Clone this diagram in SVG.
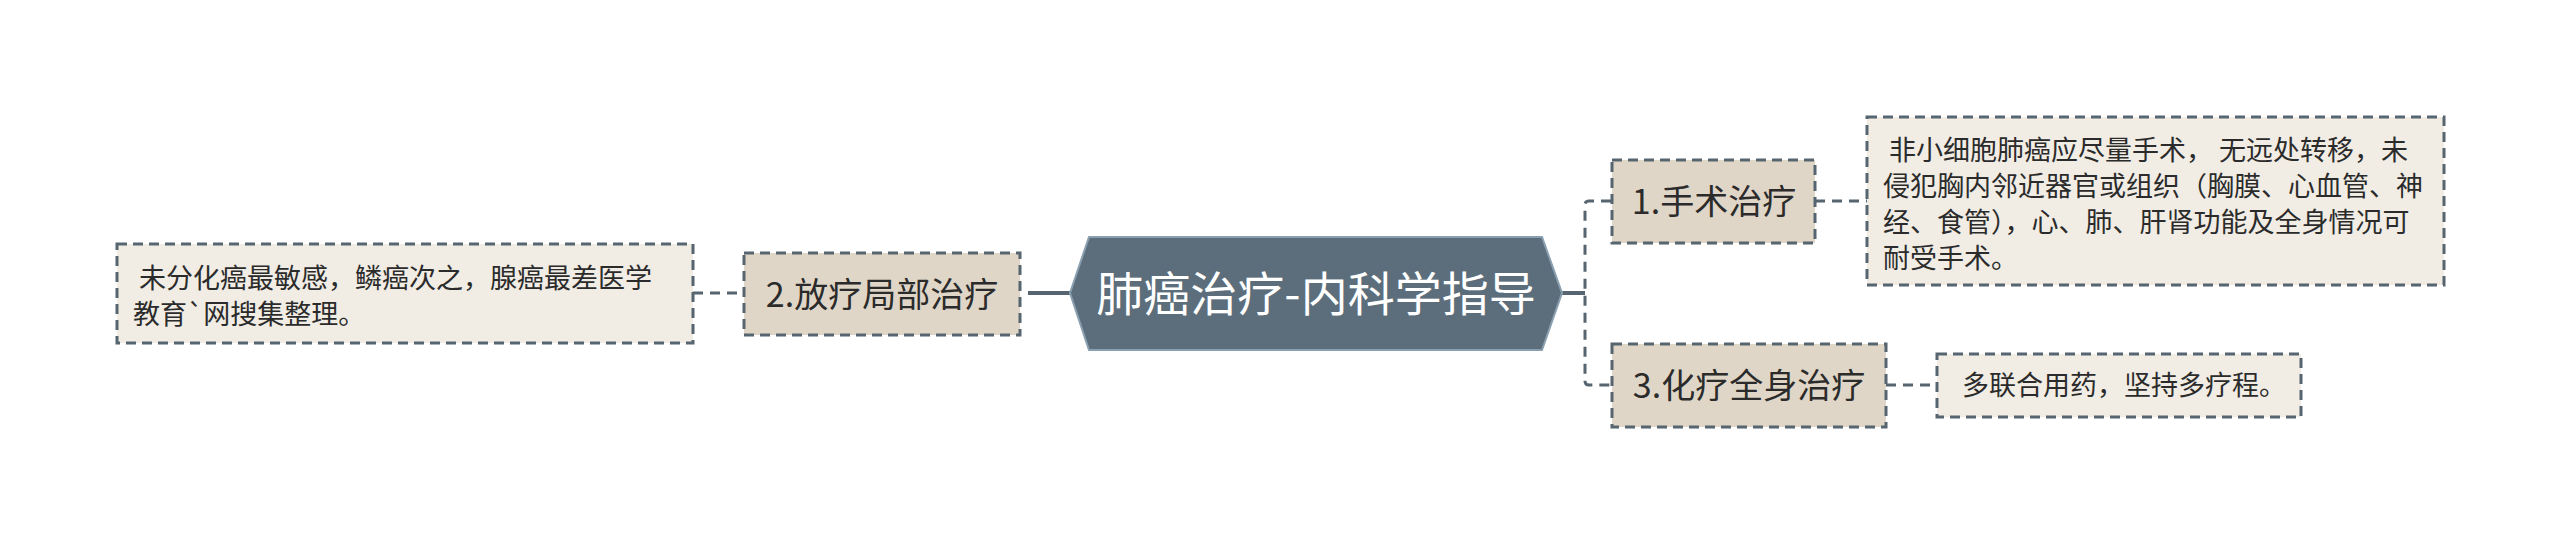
<svg xmlns="http://www.w3.org/2000/svg" width="2560" height="544" viewBox="0 0 2560 544">
<style>
text{font-family:"Noto Sans CJK SC","Noto Sans",sans-serif;white-space:pre}
.mid rect{fill:#e0d6c7;stroke:#56656f;stroke-width:3;stroke-dasharray:10 6}
.leaf rect{fill:#f1ede5;stroke:#56656f;stroke-width:3;stroke-dasharray:10 6}
.mid text{font-size:34px;fill:#2b2b2b;text-anchor:middle}
.leaf text{font-size:27px;fill:#2b2b2b}
.conn{fill:none;stroke:#56656f;stroke-width:3;stroke-dasharray:10 7}
.solid{fill:none;stroke:#56656f;stroke-width:4}
</style>
<rect width="2560" height="544" fill="#ffffff"/>
<g id="connectors">
<line class="solid" x1="1028" y1="293" x2="1070" y2="293"/>
<line class="solid" x1="1562" y1="293" x2="1585" y2="293"/>
<path class="conn" d="M1611,201 H1589 Q1585,201 1585,205 V381 Q1585,385 1589,385 H1611"/>
<line class="conn" x1="693" y1="293" x2="744" y2="293"/>
<line class="conn" x1="1815" y1="201" x2="1867" y2="201"/>
<line class="conn" x1="1886" y1="385" x2="1937" y2="385"/>
</g>
<g id="root">
<polygon points="1070,293 1089,237 1542,237 1562,293 1542,350 1089,350" fill="#5c6e7b" stroke="#8aa0b0" stroke-width="2"/>
<text x="1316" y="311" font-size="47" fill="#ffffff" text-anchor="middle">肺癌治疗-内科学指导</text>
</g>
<g id="n1" class="mid">
<rect x="1612" y="160" width="203" height="83"/>
<text x="1714" y="214">1.手术治疗</text>
</g>
<g id="n2" class="mid">
<rect x="744" y="253" width="276" height="82"/>
<text x="882" y="307">2.放疗局部治疗</text>
</g>
<g id="n3" class="mid">
<rect x="1612" y="344" width="274" height="83"/>
<text x="1749" y="398">3.化疗全身治疗</text>
</g>
<g id="l1" class="leaf">
<rect x="1867" y="117" width="577" height="168"/>
<text x="1883" y="160"> 非小细胞肺癌应尽量手术， 无远处转移，未</text>
<text x="1883" y="196">侵犯胸内邻近器官或组织（胸膜、心血管、神</text>
<text x="1883" y="232">经、食管），心、肺、肝肾功能及全身情况可</text>
<text x="1883" y="268">耐受手术。</text>
</g>
<g id="l2" class="leaf">
<rect x="117" y="244" width="576" height="99"/>
<text x="133" y="288"> 未分化癌最敏感，鳞癌次之，腺癌最差医学</text>
<text x="133" y="324">教育`网搜集整理。</text>
</g>
<g id="l3" class="leaf">
<rect x="1937" y="354" width="364" height="63"/>
<text x="1962" y="395">多联合用药，坚持多疗程。</text>
</g>
</svg>
